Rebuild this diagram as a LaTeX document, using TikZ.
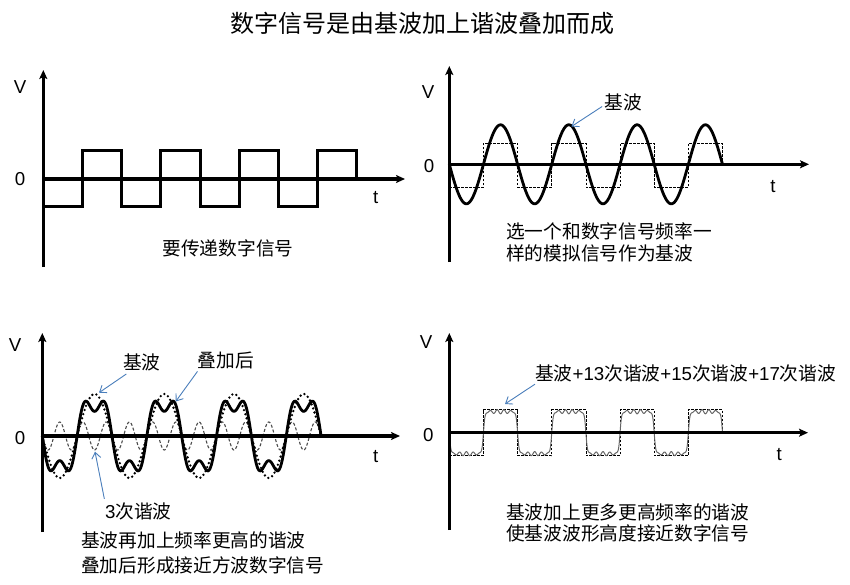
\documentclass[tikz,border=0pt]{standalone}
\usepackage{fontspec}
\setmainfont{Liberation Sans}
\newfontfamily\cjk{Noto Sans CJK SC}
\usetikzlibrary{arrows.meta}
\definecolor{callblue}{HTML}{4A7EBB}
\begin{document}
\begin{tikzpicture}[x=1pt,y=-1pt,
  every node/.style={inner sep=0pt, font=\fontsize{18.7}{22}\selectfont},
  axisline/.style={line width=3.2pt, -{Stealth[length=9pt,width=8pt,inset=2pt]}},
  sqwave/.style={line width=3pt},
  dsq/.style={line width=0.8pt, dash pattern=on 2.5pt off 1.5pt},
  sinewave/.style={line width=2.8pt},
  dotwave/.style={line width=2.6pt, line cap=round, dash pattern=on 0pt off 4.3pt},
  thirdwave/.style={line width=1.1pt, black!70, dash pattern=on 3pt off 2pt},
  ripwave/.style={line width=1pt, black!60},
  callout/.style={callblue, line width=0.9pt, -{Straight Barb[length=6pt,width=9pt]}},
  txt/.style={anchor=west}
]
\useasboundingbox (0,0) rectangle (850,585);

% title
\node (title) at (422.5,23) {\fontsize{24}{28}\selectfont\cjk 数字信号是由基波加上谐波叠加而成};

% ---------- panel 1 ----------
\draw[sqwave] (43.5,206.7) -| (82.65,151) -| (121.8,206.7) -| (160.95,151) -| (200.1,206.7)
  -| (239.25,151) -| (278.4,206.7) -| (317.55,151) -| (356.7,179);
\coordinate (o1) at (43.3,179);
\draw[axisline] (43.3,267) -- (43.3,70);
\draw[axisline] (o1) -- (405,179);
\node (v1) at (20,87) {V};
\node (z1) at (20,179) {0};
\node (t1) at (375.7,198) {t};
\node (c1) at (228,248) {\cjk 要传递数字信号};

% ---------- panel 2 ----------
\draw[dsq] (449.3,187.3) -| (483.45,143.3) -| (517.6,187.3) -| (551.75,143.3) -| (585.9,187.3)
  -| (620.05,143.3) -| (654.2,187.3) -| (688.35,143.3) -| (722.5,164.3);
\draw[sinewave] plot[domain=449.3:722.5, samples=300] (\x, {164.3+39.5*sin((\x-449.3)/68.3*360)});
\coordinate (o2) at (449.3,164.3);
\draw[axisline] (449.3,262) -- (449.3,66);
\draw[axisline] (o2) -- (809,164.3);
\node (v2) at (428,92) {V};
\node (z2) at (429,166) {0};
\node (t2) at (773,187) {t};
\node (b2) at (623,102) {\cjk 基波};
\coordinate (pk2) at (571.5,126.5);
\draw[callout] ([shift={(-2,4.5)}]b2.west) -- (pk2);
\node[txt] (c2a) at (506,231.7) {\cjk 选一个和数字信号频率一};
\node[txt] (c2b) at (506,253) {\cjk 样的模拟信号作为基波};

% ---------- panel 3 ----------
\draw[thirdwave] plot[domain=42.3:321.1, samples=400] (\x, {436+14*sin(3*(\x-42.3)/69.7*360)});
\draw[dotwave] plot[domain=42.3:321.1, samples=300] (\x, {436+42*sin((\x-42.3)/69.7*360)});
\draw[sinewave] plot[domain=42.3:321.1, samples=400] (\x, {436+37*(sin((\x-42.3)/69.7*360)+sin(3*(\x-42.3)/69.7*360)/3)});
\coordinate (o3) at (42.3,436);
\draw[axisline] (42.3,532) -- (42.3,333);
\draw[axisline] (o3) -- (400,436);
\node (v3) at (15,345) {V};
\node (z3) at (20,438) {0};
\node (t3) at (375.7,456.7) {t};
\node (b3) at (141.7,362.7) {\cjk 基波};
\node (s3) at (225.7,360.7) {\cjk 叠加后};
\node (h3) at (138.3,511.7) {3{\cjk 次谐波}};
\coordinate (pb3) at (99,392.7);
\coordinate (ps3) at (175.7,401.5);
\coordinate (ph3) at (95,451.7);
\draw[callout] ([shift={(3.5,2.5)}]b3.south west) -- (pb3);
\draw[callout] ([shift={(0,2)}]s3.south west) -- (ps3);
\draw[callout] ([shift={(-0.5,-4)}]h3.north west) -- (ph3);
\node[txt] (c3a) at (81,540.7) {\cjk 基波再加上频率更高的谐波};
\node[txt] (c3b) at (81,565) {\cjk 叠加后形成接近方波数字信号};

% ---------- panel 4 ----------
\draw[dsq] (449.3,455.7) -| (483.45,409.7) -| (517.6,455.7) -| (551.75,409.7) -| (585.9,455.7)
  -| (620.05,409.7) -| (654.2,455.7) -| (688.35,409.7) -| (722.5,432.7);
\draw[ripwave] plot[domain=449.3:722.5, samples=700]
  (\x, {432.7+21*tanh(7*sin((\x-449.3)/68.3*360))+2.1*cos(10*(\x-449.3)/68.3*360)*sin((\x-449.3)/68.3*360)});
\coordinate (o4) at (449.3,432.7);
\draw[axisline] (449.3,530) -- (449.3,333);
\draw[axisline] (o4) -- (808,432.7);
\node (v4) at (426,341.7) {V};
\node (z4) at (428.3,435) {0};
\node (t4) at (779.3,455) {t};
\node[txt] (b4) at (535,373.3) {{\cjk 基波}+13{\cjk 次谐波}+15{\cjk 次谐波}+17{\cjk 次谐波}};
\coordinate (pb4) at (505,404);
\draw[callout] ([shift={(0,2)}]b4.south west) -- (pb4);
\node[txt] (c4a) at (506,512.7) {\cjk 基波加上更多更高频率的谐波};
\node[txt] (c4b) at (506,533.3) {\cjk 使基波波形高度接近数字信号};
\end{tikzpicture}
\end{document}
